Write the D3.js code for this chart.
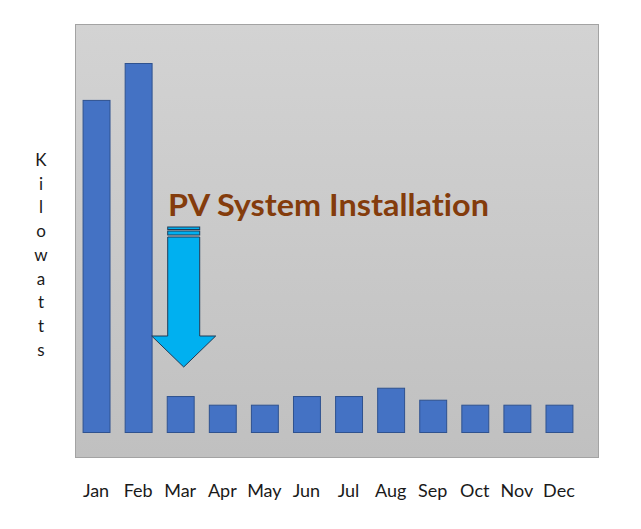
<!DOCTYPE html>
<html><head><meta charset="utf-8">
<script src="https://cdn.jsdelivr.net/npm/d3@7"></script>
<style>body{margin:0;background:#fff}svg{display:block}text{font-variant-ligatures:none;font-feature-settings:"liga" 0}</style>
</head><body>
<script>
const months = ["Jan","Feb","Mar","Apr","May","Jun","Jul","Aug","Sep","Oct","Nov","Dec"];
const kilowatts = [1800,2000,195,148,148,195,195,240,175,148,148,148];
const yLabel = "Kilowatts";
const annotation = "PV System Installation";

const W = 641, H = 529;
const svg = d3.select("body").append("svg").attr("width", W).attr("height", H);

const plot = {left:75, top:24, right:598, bottom:457};
const x = d3.scaleBand().domain(months).range([75, 580]).paddingInner(0.36).paddingOuter(0.18);
const y = d3.scaleLinear().domain([0, 2000]).range([432, 63]);

const defs = svg.append("defs");
const g = defs.append("linearGradient").attr("id","bg").attr("x1",0).attr("y1",0).attr("x2",0).attr("y2",1);
g.append("stop").attr("offset","0%").attr("stop-color","#d3d3d3");
g.append("stop").attr("offset","100%").attr("stop-color","#c0c0c0");

svg.append("rect").attr("x",plot.left+0.5).attr("y",plot.top+0.5)
  .attr("width",plot.right-plot.left).attr("height",plot.bottom-plot.top)
  .attr("fill","url(#bg)").attr("stroke","#a3a3a3").attr("stroke-width",1);

svg.append("g").selectAll("rect").data(months).join("rect")
  .attr("x", d => x(d)+0.5)
  .attr("y", (d,i) => y(kilowatts[i])+0.5)
  .attr("width", x.bandwidth())
  .attr("height", (d,i) => y(0)-y(kilowatts[i]))
  .attr("fill","#4472C4").attr("stroke","#2F528F").attr("stroke-width",1);

// x axis labels
svg.append("g").selectAll("text").data(months).join("text")
  .attr("x", d => x(d)+x.bandwidth()/2)
  .attr("y", 497)
  .attr("text-anchor","middle")
  .attr("font-family","Lato, 'Open Sans', sans-serif")
  .attr("font-size",18).attr("fill","#1a1a1a")
  .text(d => d);

// y label, stacked letters
const yl = svg.append("text").attr("font-family","Lato, 'Open Sans', sans-serif")
  .attr("font-size",17).attr("fill","#1a1a1a").attr("text-anchor","middle");
yl.selectAll("tspan").data(yLabel.split("")).join("tspan")
  .attr("x",41).attr("y",(d,i)=>166+i*23.7).text(d=>d);

// annotation text
svg.append("text").attr("x",168).attr("y",216)
  .attr("font-family","Lato, 'Open Sans', sans-serif").attr("font-weight","bold")
  .attr("font-size",30).attr("fill","#843C0C")
  .attr("textLength",321).attr("lengthAdjust","spacingAndGlyphs")
  .text(annotation);

// arrow anchored at March bar
const cx = x("Mar") + x.bandwidth()/2 + 3.5;
const shaftL = cx-16, shaftR = cx+16, headL = cx-32, headR = cx+32;
const topY = 227, shaftTop = 237, headY = 336, tipY = 367;
const arrow = svg.append("g").attr("stroke","#1f3b57").attr("stroke-width",1).attr("fill","#00B0F0");
arrow.append("rect").attr("x",shaftL).attr("y",topY).attr("width",32).attr("height",2.5);
arrow.append("rect").attr("x",shaftL).attr("y",231).attr("width",32).attr("height",4);
arrow.append("path").attr("d",
  `M${shaftL},${shaftTop} L${shaftR},${shaftTop} L${shaftR},${headY} L${headR},${headY} L${cx},${tipY} L${headL},${headY} L${shaftL},${headY} Z`);
</script>
</body></html>
